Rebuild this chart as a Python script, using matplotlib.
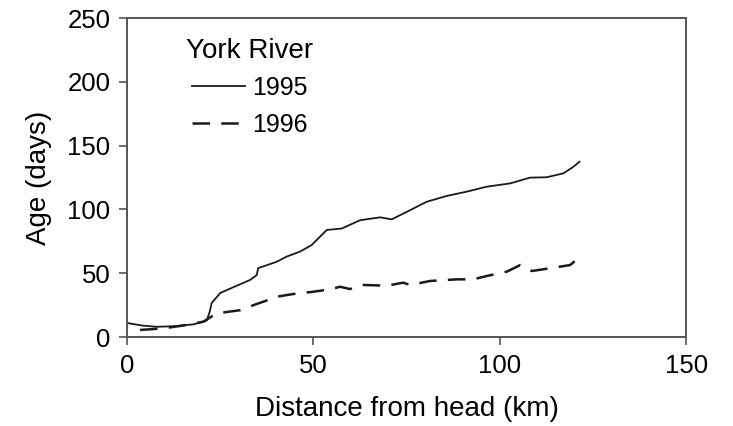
import matplotlib
matplotlib.use("Agg")
import matplotlib.pyplot as plt

plt.rcParams['font.family'] = ['Liberation Sans', 'DejaVu Sans']

km_1995 = [0, 4, 8, 13, 18, 21.4, 22.2, 22.7, 25, 28.5, 33, 34.8, 35.2, 40.2, 42.8, 46.4,
           49.5, 53.6, 57.6, 62.5, 67.9, 71, 75, 80.4, 85.7, 91.1, 96.5, 102.8, 108.1,
           112.6, 117.1, 119.8, 121.4]
age_1995 = [11, 9, 8, 8.5, 10, 13, 20, 26.6, 34.5, 39, 44.7, 48.6, 54, 59, 63, 66.9,
            72, 83.9, 85, 91.5, 93.8, 92.2, 98, 106, 110.5, 113.9, 117.8, 120.4, 124.9,
            125.2, 128.3, 133.5, 137.4]

km_1996 = [3.5, 9.8, 16, 20.5, 24, 30.3, 34.8, 36.6, 40.2, 44.6, 50, 54.5, 57.2, 59.8,
           63.4, 69.7, 74.1, 76, 81.3, 88.5, 92.9, 96.5, 101.9, 105.5, 108.6, 114.4,
           118.9, 121.4]
age_1996 = [5.5, 6.8, 9.4, 12, 18.5, 21, 25.9, 27.7, 31.6, 33.7, 35.5, 37.4, 39.4, 37.6,
            40.8, 40.2, 42.6, 40.8, 43.9, 45.2, 45.2, 47.8, 51.2, 56.4, 51.7, 54.3,
            56.4, 62.5]

fig = plt.figure(figsize=(7.33, 4.26), dpi=100)
ax = fig.add_axes([0.1733, 0.2089, 0.7627, 0.7488])

ax.plot(km_1995, age_1995, color='#1a1a1a', lw=1.3, label='1995')
ax.plot(km_1996, age_1996, color='#1a1a1a', lw=1.8, linestyle=(0, (7, 4.5)), label='1996')

ax.set_xlim(0, 150)
ax.set_ylim(0, 250)
ax.set_xticks([0, 50, 100, 150])
ax.set_yticks([0, 50, 100, 150, 200, 250])
ax.tick_params(direction='out', length=6, width=1.2, labelsize=18.5, color='#555555', pad=6)
for s in ax.spines.values():
    s.set_linewidth(1.4)
    s.set_color('#555555')

ax.set_xlabel('Distance from head (km)', fontsize=20, labelpad=13)
ax.set_ylabel('Age (days)', fontsize=20, labelpad=11)

leg = ax.legend(title='York River', frameon=False, loc='upper left',
                bbox_to_anchor=(0.088, 0.97), borderaxespad=0, fontsize=18, title_fontsize=20,
                handlelength=2.1, handletextpad=0.3, labelspacing=0.5)

fig.savefig('out.png', dpi=100)
